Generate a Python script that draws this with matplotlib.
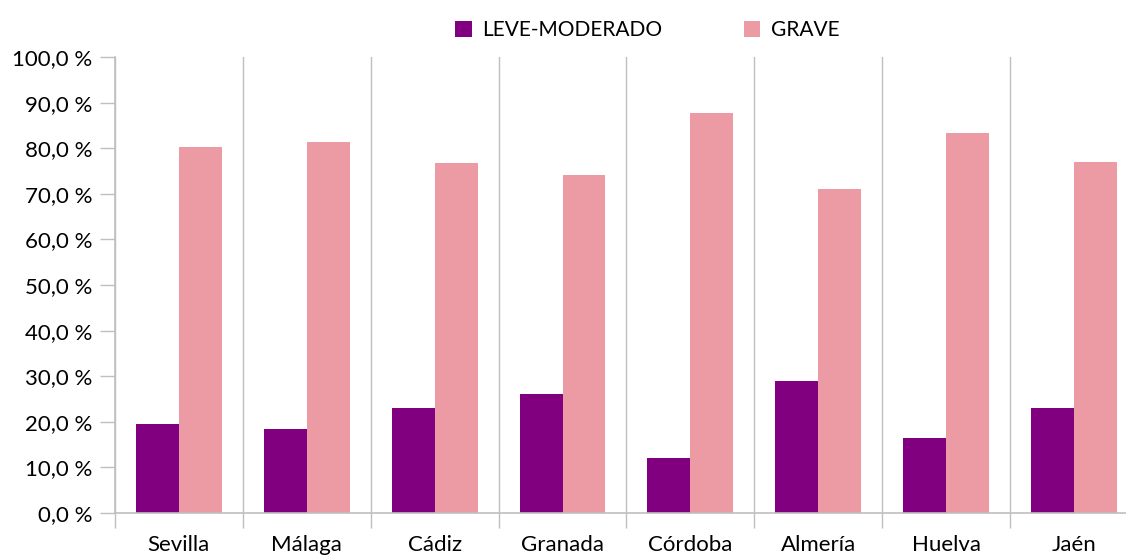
import numpy as np
import matplotlib.pyplot as plt
from matplotlib.ticker import FixedLocator

provincias = ["Sevilla", "Málaga", "Cádiz", "Granada", "Córdoba", "Almería", "Huelva", "Jaén"]
leve_moderado = [19.6, 18.5, 23.1, 26.0, 12.1, 29.0, 16.5, 23.1]
grave = [80.3, 81.4, 76.8, 74.2, 87.8, 71.1, 83.4, 77.1]
y_ticks = np.arange(0, 101, 10)

plt.rcParams['font.family'] = ['Lato', 'DejaVu Sans']

fig = plt.figure(figsize=(11.26, 5.56), dpi=100)
ax = fig.add_axes([0.1021, 0.0773, 0.9085, 0.820])

x = np.arange(len(provincias))
w = 0.336
ax.bar(x - w / 2, leve_moderado, w, color='#800080', label='LEVE-MODERADO')
ax.bar(x + w / 2, grave, w, color='#EC9BA4', label='GRAVE')

ax.set_xlim(-0.5, len(provincias) - 0.5)
ax.set_ylim(0, 100)
ax.set_yticks(y_ticks)
ax.set_yticklabels([f"{v:.1f} %".replace('.', ',') for v in y_ticks], fontsize=16)
ax.set_xticks(x)
ax.set_xticklabels(provincias, fontsize=16)
ax.xaxis.set_minor_locator(FixedLocator(np.arange(-0.5, len(provincias), 1.0)))
ax.tick_params(axis='x', which='major', length=0, pad=16)
ax.tick_params(axis='x', which='minor', length=11, color='#BFBFBF', width=1)
ax.tick_params(axis='y', length=11, color='#BFBFBF', width=1, pad=5)
ax.grid(axis='x', which='minor', color='#BFBFBF', linewidth=1)
ax.set_axisbelow(True)

for s in ['top', 'right']:
    ax.spines[s].set_visible(False)
for s in ['left', 'bottom']:
    ax.spines[s].set_color('#BFBFBF')
    ax.spines[s].set_linewidth(1.2)

fig.legend(loc='upper center', bbox_to_anchor=(0.575, 0.998), ncol=2, frameon=False,
           fontsize=15, handlelength=0.8, handleheight=0.8, columnspacing=3.9,
           handletextpad=0.5)

plt.savefig('out.png', dpi=100)
